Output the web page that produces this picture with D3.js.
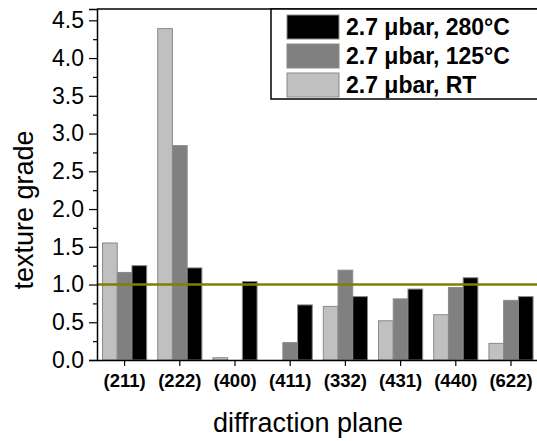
<!DOCTYPE html>
<html>
<head>
<meta charset="utf-8">
<script src="https://cdn.jsdelivr.net/npm/d3@7"></script>
<style>
  body { margin: 0; background: #fff; }
  text { font-family: "Liberation Sans", Arial, sans-serif; }
</style>
</head>
<body>
<div id="chart"></div>
<script>
const planes = ['(211)', '(222)', '(400)', '(411)', '(332)', '(431)', '(440)', '(622)'];
const seriesNames = ['2.7 \u03bcbar, RT', '2.7 \u03bcbar, 125°C', '2.7 \u03bcbar, 280°C'];
const rtValues = [1.55, 4.39, 0.03, 0, 0.71, 0.52, 0.60, 0.22];
const c125Values = [1.16, 2.84, 0, 0.23, 1.19, 0.81, 0.96, 0.79];
const c280Values = [1.25, 1.22, 1.04, 0.73, 0.84, 0.94, 1.09, 0.84];
const seriesColors = ['#c0c0c0', '#808080', '#000000'];
const yTicks = [0, 0.5, 1, 1.5, 2, 2.5, 3, 3.5, 4, 4.5];
const refLine = 1.0;

const width = 537, height = 441;
const margin = { top: 9, left: 97, bottom: 81 };
const plotRight = 538.6;

const series = [rtValues, c125Values, c280Values];

const svg = d3.select('#chart').append('svg')
  .attr('width', width).attr('height', height);

const x = d3.scaleBand()
  .domain(planes)
  .range([margin.left, plotRight])
  .paddingInner(0.2).paddingOuter(0.1);

const xs = d3.scaleBand()
  .domain(d3.range(series.length))
  .range([0, x.bandwidth()]);

const y = d3.scaleLinear()
  .domain([0, 4.65])
  .range([height - margin.bottom, margin.top]);

// bars
series.forEach((vals, si) => {
  const pts = vals.map((v, i) => ({ plane: planes[i], value: v })).filter(d => d.value > 0);
  svg.append('g')
    .attr('fill', seriesColors[si])
    .attr('stroke', '#8a8a8a')
    .attr('stroke-width', 1)
    .selectAll('rect')
    .data(pts)
    .enter()
    .append('rect')
    .attr('x', d => x(d.plane) + xs(si))
    .attr('y', d => y(d.value))
    .attr('width', xs.bandwidth())
    .attr('height', d => y(0) - y(d.value));
});

// reference line
svg.append('line')
  .attr('x1', margin.left).attr('x2', plotRight)
  .attr('y1', y(refLine)).attr('y2', y(refLine))
  .attr('stroke', '#808000').attr('stroke-width', 2.5);

// frame top
svg.append('line')
  .attr('x1', margin.left).attr('x2', plotRight)
  .attr('y1', y(4.65)).attr('y2', y(4.65))
  .attr('stroke', '#000').attr('stroke-width', 1.5);

// y axis
const yAxis = svg.append('g')
  .attr('transform', `translate(${margin.left},0)`)
  .call(d3.axisLeft(y).tickValues(yTicks).tickFormat(d3.format('.1f')).tickSize(8).tickPadding(5));
yAxis.select('.domain').attr('stroke-width', 1.5);
yAxis.selectAll('.tick line').attr('stroke-width', 1.2);
yAxis.selectAll('text').attr('font-size', 23).attr('fill', '#000')
  .style('font-family', '"Liberation Sans", Arial, sans-serif');

svg.append('g')
  .attr('transform', `translate(${margin.left},0)`)
  .call(d3.axisLeft(y).tickValues(d3.range(0.25, 4.65, 0.5)).tickSize(4).tickFormat(''))
  .call(g => g.select('.domain').remove())
  .selectAll('.tick line').attr('stroke-width', 1.2);

// x axis
const xAxis = svg.append('g')
  .attr('transform', `translate(0,${y(0)})`)
  .call(d3.axisBottom(x).tickSize(6).tickPadding(8).tickSizeOuter(0));
xAxis.select('.domain').attr('stroke-width', 1.5);
xAxis.selectAll('.tick line').attr('stroke-width', 1.2);
xAxis.selectAll('text').attr('font-size', 18.5).attr('font-weight', 'bold').attr('fill', '#000')
  .style('font-family', '"Liberation Sans", Arial, sans-serif');

// axis titles
svg.append('text')
  .attr('transform', 'translate(33,210) rotate(-90)')
  .attr('text-anchor', 'middle')
  .attr('font-size', 27)
  .text('texture grade');

svg.append('text')
  .attr('x', 308).attr('y', 432)
  .attr('text-anchor', 'middle')
  .attr('font-size', 27)
  .text('diffraction plane');

// legend
const legend = svg.append('g');
legend.append('rect')
  .attr('x', 271).attr('y', 9).attr('width', 280).attr('height', 90)
  .attr('fill', '#fff').attr('stroke', '#000').attr('stroke-width', 1.5);

const legendOrder = [2, 1, 0];
legendOrder.forEach((si, k) => {
  const row = legend.append('g').attr('transform', `translate(287,${15 + k * 29})`);
  row.append('rect')
    .attr('width', 52).attr('height', 24)
    .attr('fill', seriesColors[si])
    .attr('stroke', '#8a8a8a').attr('stroke-width', 1);
  row.append('text')
    .attr('x', 59).attr('y', 20)
    .attr('font-size', 23).attr('font-weight', 'bold')
    .text(seriesNames[si]);
});
</script>
</body>
</html>
